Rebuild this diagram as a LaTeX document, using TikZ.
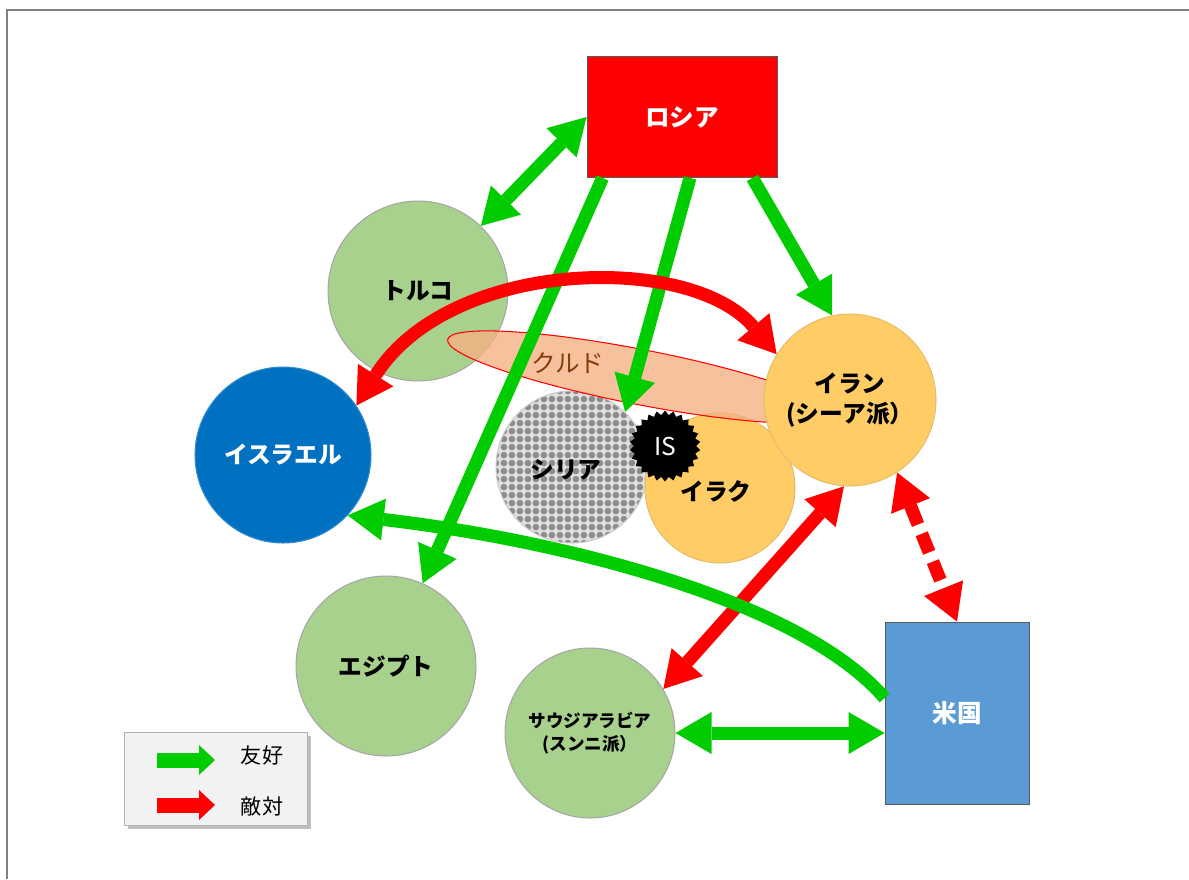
\documentclass[tikz,border=0pt]{standalone}
\usepackage{fontspec}
\newfontfamily\jp{Noto Sans CJK JP}
\usepackage{tikz}
\usetikzlibrary{arrows.meta,positioning,shapes.geometric,shadows,patterns.meta}

\definecolor{friendgreen}{RGB}{0,204,0}
\definecolor{foered}{RGB}{255,0,0}
\definecolor{palegreen}{RGB}{169,209,142}
\definecolor{israelblue}{RGB}{0,112,192}
\definecolor{shiaorange}{RGB}{255,204,102}
\definecolor{usablue}{RGB}{91,155,213}
\definecolor{kurdpeach}{RGB}{244,177,131}
\definecolor{kurdbrown}{RGB}{132,60,12}

\tikzdeclarepattern{
  name=checkdots,
  type=uncolored,
  bottom left={(-0.08cm,-0.08cm)},
  top right={(0.08cm,0.08cm)},
  tile size={(0.16cm,0.16cm)},
  code={\fill (0cm,0cm) circle (0.066cm);}
}

\begin{document}
\begin{tikzpicture}[
            x=0.02cm, y=-0.02cm,
            >={Triangle[length=0.72cm,width=0.84cm,line width=0pt]},
            country/.style={circle, draw=gray!70, line width=0.6pt, inner sep=0pt,
                font=\jp\bfseries\fontsize{13.5}{17}\selectfont, align=center},
            statebox/.style={rectangle, draw=gray!70!black, line width=0.5pt, text=white,
                font=\jp\bfseries\fontsize{14}{17}\selectfont},
            friend/.style={draw=friendgreen, line width=0.26cm},
            foe/.style={draw=foered, line width=0.26cm},
            keytext/.style={font=\jp\fontsize{12}{14}\selectfont}
        ]
        \useasboundingbox (0,0) rectangle (1189,879);
        \draw[gray, line width=1.2pt] (1189,10) -- (7,10) -- (7,879);

        \node[country, fill=palegreen, minimum size=3.6cm] (turkey) at (418,291) {トルコ};
        \node[country, fill=israelblue, draw=israelblue!80!white, text=white, minimum size=3.52cm] (israel) at (283,455) {イスラエル};
        \node[country, fill=palegreen, minimum size=3.6cm] (egypt) at (386,666) {エジプト};
        \node[country, fill=palegreen, minimum size=3.4cm, font=\jp\bfseries\fontsize{10}{13.5}\selectfont] (saudi) at (590,733) {サウジアラビア\\(スンニ派）};
        \node[statebox, fill=usablue, minimum width=2.88cm, minimum height=3.64cm] (usa) at (957,713) {米国};
        \node[statebox, fill=foered, minimum width=3.8cm, minimum height=2.42cm] (russia) at (682,117) {ロシア};

        \node[country, draw=gray!40, preaction={fill=gray!25}, pattern=checkdots, pattern color=gray!90, minimum size=3.04cm] (syria) at (572,467) {};
        \node[font=\jp\bfseries\fontsize{13.5}{17}\selectfont] (syrialabel) at (566,470) {シリア};
        \node[country, fill=shiaorange, draw=shiaorange!80!gray, minimum size=3.0cm] (iraq) at (720,488) {};
        \node[font=\jp\bfseries\fontsize{13.5}{17}\selectfont] (iraqlabel) at (716,491) {イラク};

        \node[ellipse, draw=red, line width=0.6pt, fill=kurdpeach, fill opacity=0.8,
            minimum width=7.84cm, minimum height=1.1cm, rotate=-11] (kurds) at (640,377) {};
        \node[text=kurdbrown, font=\jp\fontsize{14}{17}\selectfont] (kurdlabel) at (568,363) {クルド};

        \node[country, fill=shiaorange, draw=shiaorange!80!gray, minimum size=3.44cm] (iran) at (850,400) {イラン\\(シーア派）};
        \node[star, star points=26, star point ratio=1.14, fill=black, inner sep=0pt,
            minimum size=1.42cm, text=white, font=\jp\fontsize{14}{16}\selectfont] (isil) at (665,446) {IS};

        % relations
        \draw[friend, <->] (russia.west) -- (turkey.46);
        \draw[friend, ->] ([xshift=0.32cm]russia.south west) -- (egypt);
        \draw[friend, ->] ([xshift=0.16cm]russia.south) -- (syria.46);
        \draw[friend, ->] ([xshift=-0.5cm]russia.south east) -- (iran.102);
        \draw[foe, <->] (israel.34) .. controls (450,258) and (690,252) .. (iran.148);
        \draw[foe, <->] (iran.266) -- (saudi.31);
        \draw[foe, <->, dash pattern=on 0.4cm off 0.2cm] (iran.303) -- (usa.north);
        \draw[friend, <->] (saudi.east) -- (saudi.east -| usa.west);
        \draw[friend, ->] ([yshift=0.3cm]usa.west) .. controls (800,600) and (560,540) .. (israel.-43);

        % legend
        \node[draw=gray!60, fill=gray!10, drop shadow, minimum width=3.66cm, minimum height=1.86cm] (legend) at (215.5,778.5) {};
        \node[keytext] (friendkey) at (262,755) {友好};
        \node[keytext] (foekey) at (262,806) {敵対};
        \coordinate (friendfrom) at (157,760);
        \coordinate (friendto) at (215,760);
        \coordinate (foefrom) at (157,805);
        \coordinate (foeto) at (215,805);
        \draw[draw=friendgreen, line width=0.3cm, -{Triangle[length=0.32cm,width=0.6cm,line width=0pt]}] (friendfrom) -- (friendto);
        \draw[draw=foered, line width=0.3cm, -{Triangle[length=0.32cm,width=0.6cm,line width=0pt]}] (foefrom) -- (foeto);
    \end{tikzpicture}
\end{document}
